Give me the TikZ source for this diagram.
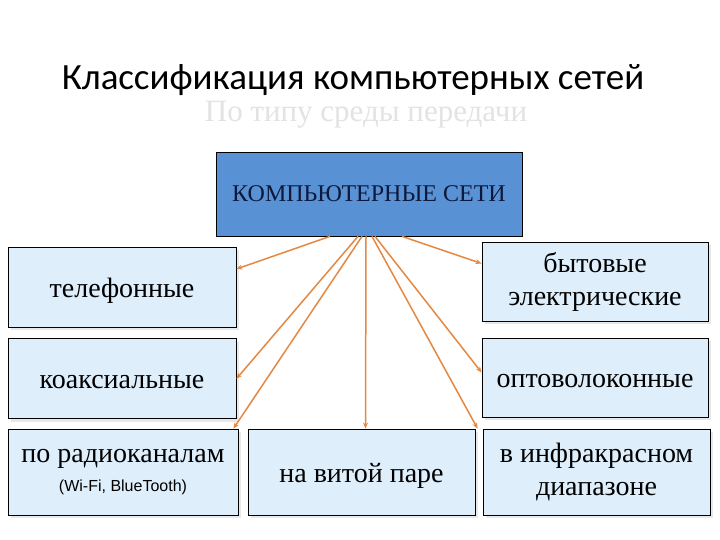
\documentclass[tikz,border=0pt]{standalone}
\usepackage{fontspec}
\setmainfont{Liberation Serif}
\newfontfamily\titlefont{Carlito}
\newfontfamily\armfont{Liberation Sans}
\usepackage{tikz}
\usetikzlibrary{arrows.meta, positioning, shadows}
\definecolor{topblue}{RGB}{88,146,212}
\definecolor{boxblue}{RGB}{222,238,251}
\definecolor{arrorange}{RGB}{228,136,66}
\definecolor{navytext}{RGB}{12,24,60}

\begin{document}
\begin{tikzpicture}[x=1pt, y=-1pt,
      kind/.style={rectangle, draw=black, line width=0.8pt, fill=boxblue, minimum width=228pt, minimum height=80pt, align=center, font=\fontsize{28}{30}\selectfont, inner sep=2pt,
        drop shadow={shadow xshift=3pt, shadow yshift=-3pt, opacity=0.18}},
      oneline/.style={text height=24pt, text depth=4pt},
      root/.style={rectangle, draw=black, line width=0.8pt, fill=topblue, minimum width=306pt, minimum height=84pt, font=\fontsize{24}{26}\selectfont, text=navytext},
      edge/.style={-{Stealth[length=6pt, width=5pt]}, draw=arrorange, line width=1.5pt},
    ]
    \useasboundingbox[fill=white] (0,0) rectangle (720,540);

    % Titles
    \node[font=\titlefont\fontsize{37}{40}\selectfont] (title) at (353,80) {Классификация компьютерных сетей};
    \node[font=\fontsize{31}{33}\selectfont, text=black!11] (sub) at (366,115) {По типу среды передачи};

    % Nodes
    \node[root] (net) at (369,194) {КОМПЬЮТЕРНЫЕ СЕТИ};
    \node[kind, oneline] (tel) at (122,287) {телефонные};
    \node[kind, oneline, below=11pt of tel] (koax) {коаксиальные};
    \node[kind, minimum width=230pt, minimum height=86pt] (radio) at (123,472) {по радиоканалам\\[-1pt]{\armfont\fontsize{16}{18}\selectfont (Wi-Fi, BlueTooth)}};
    \node[kind, oneline, minimum width=227pt, minimum height=86pt] (vit) at (361.5,472) {на витой паре};
    \node[kind, minimum width=227pt, minimum height=86pt, font=\fontsize{28}{33}\selectfont] (infra) at (596.5,472) {в инфракрасном\\диапазоне};
    \node[kind, minimum width=226pt, minimum height=79pt, font=\fontsize{28}{33}\selectfont] (byt) at (595,281.5) {бытовые\\электрические};
    \node[kind, oneline, minimum width=226pt, minimum height=79pt] (opto) at (595,377.5) {оптоволоконные};

    % Edges
    \draw[edge] ([xshift=-39pt]net.south) -- ([yshift=18pt]tel.east);
    \draw[edge] ([xshift=-11pt]net.south) -- (koax.east);
    \draw[edge] ([xshift=-7pt]net.south) -- ([xshift=-5pt]radio.north east);
    \draw[edge] ([xshift=-3pt]net.south) -- ([xshift=4pt]vit.north);
    \draw[edge] ([xshift=3pt]net.south) -- ([xshift=-5pt]infra.north west);
    \draw[edge] ([xshift=6pt]net.south) -- ([yshift=5pt]opto.west);
    \draw[edge] ([xshift=33pt]net.south) -- ([yshift=18pt]byt.west);

  \end{tikzpicture}
\end{document}
